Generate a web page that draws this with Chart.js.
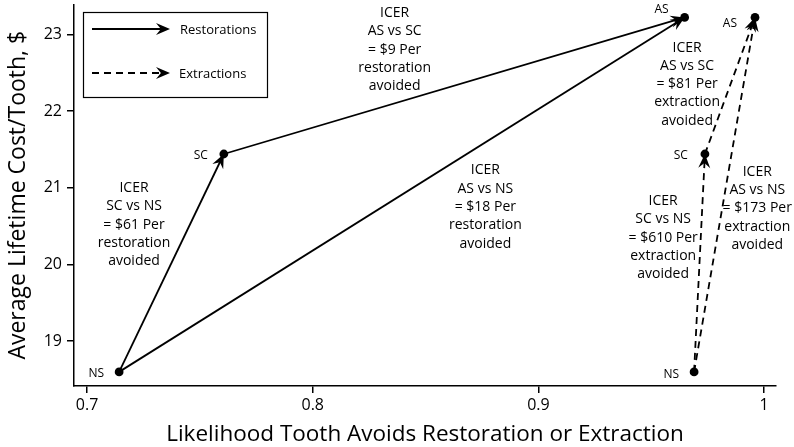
<!DOCTYPE html>
<html>
<head>
<meta charset="utf-8">
<script src="https://cdn.jsdelivr.net/npm/chart.js@4/dist/chart.umd.min.js"></script>
<style>
  html, body { margin: 0; padding: 0; background: #fff; }
  #wrap { width: 794px; height: 447px; }
</style>
</head>
<body>
<div id="wrap"><canvas id="icerChart"></canvas></div>
<script>
// values
const strategies = ['NS', 'SC', 'AS'];
const restorationEffect = [0.7142, 0.7606, 0.9648];
const restorationCost = [18.60, 21.44, 23.22];
const extractionEffect = [0.9690, 0.9738, 0.9960];
const extractionCost = [18.60, 21.44, 23.22];
const comparisons = [[0, 1], [1, 2], [0, 2]]; // from -> to
const restorationIcer = ['$61', '$9', '$18'];
const extractionIcer = ['$610', '$81', '$173'];
const xTicks = [0.7, 0.8, 0.9, 1];
const yTicks = [19, 20, 21, 22, 23];

const FONT = '"Open Sans", sans-serif';

// where each ICER note sits (data coords of block centre), same order as comparisons
const notePlace = {
    restoration: [{x: 0.7208, y: 20.52}, {x: 0.8363, y: 22.80}, {x: 0.8765, y: 20.75}],
    extraction: [{x: 0.9553, y: 20.35}, {x: 0.9659, y: 22.35}, {x: 0.9970, y: 20.73}]
};
// label offsets (px) from each point
const labelShift = {
    restoration: [[-15, 2], [-16, 2], [-16, -8]],
    extraction: [[-15, 3], [-17, 2], [-18, 6]]
};

function segmentSets(effect, cost, dash, group) {
    return comparisons.map(([a, b]) => ({
        data: [{x: effect[a], y: cost[a]}, {x: effect[b], y: cost[b]}],
        showLine: true,
        borderColor: '#000',
        borderWidth: 1.8,
        borderDash: dash,
        pointRadius: 0,
        segmentOf: group
    }));
}

function pointSet(effect, cost, group) {
    return {
        data: effect.map((v, i) => ({x: v, y: cost[i]})),
        showLine: false,
        pointRadius: 4.4,
        pointBackgroundColor: '#000',
        pointBorderWidth: 0,
        pointsOf: group
    };
}

function drawArrow(ctx, x, y, ang, len, half) {
    ctx.save();
    ctx.translate(x, y);
    ctx.rotate(ang);
    ctx.beginPath();
    ctx.moveTo(0, 0);
    ctx.lineTo(-len, -half);
    ctx.lineTo(-len * 0.65, 0);
    ctx.lineTo(-len, half);
    ctx.closePath();
    ctx.fillStyle = '#000';
    ctx.fill();
    ctx.restore();
}

const annotate = {
    id: 'annotate',
    afterDatasetsDraw(chart) {
        const ctx = chart.ctx;
        const xs = chart.scales.x, ys = chart.scales.y;
        // arrowheads at the end of every comparison
        chart.data.datasets.forEach((ds, i) => {
            if (!ds.segmentOf) return;
            const pts = chart.getDatasetMeta(i).data;
            const ang = Math.atan2(pts[1].y - pts[0].y, pts[1].x - pts[0].x);
            drawArrow(ctx, pts[1].x, pts[1].y, ang, 14, 6);
        });
        // strategy labels
        ctx.save();
        ctx.fillStyle = '#000';
        ctx.font = '12px ' + FONT;
        ctx.textAlign = 'right';
        ctx.textBaseline = 'middle';
        chart.data.datasets.forEach((ds, i) => {
            if (!ds.pointsOf) return;
            const pts = chart.getDatasetMeta(i).data;
            pts.forEach((p, k) => {
                const [dx, dy] = labelShift[ds.pointsOf][k];
                ctx.fillText(strategies[k], p.x + dx, p.y + dy);
            });
        });
        // ICER notes
        ctx.font = '14px ' + FONT;
        ctx.textAlign = 'center';
        const groups = {restoration: restorationIcer, extraction: extractionIcer};
        Object.keys(groups).forEach(g => {
            comparisons.forEach(([a, b], k) => {
                const lines = ['ICER', `${strategies[b]} vs ${strategies[a]}`,
                    `= ${groups[g][k]} Per`, g, 'avoided'];
                const cx = xs.getPixelForValue(notePlace[g][k].x);
                const cy = ys.getPixelForValue(notePlace[g][k].y);
                const lh = 18.3;
                lines.forEach((t, j) => ctx.fillText(t, cx, cy + (j - 2) * lh));
            });
        });
        // legend box
        ctx.strokeStyle = '#000';
        ctx.lineWidth = 1.2;
        ctx.strokeRect(83.5, 12.5, 184, 85);
        ctx.lineWidth = 1.8;
        ctx.beginPath();
        ctx.moveTo(92, 29); ctx.lineTo(165, 29);
        ctx.stroke();
        ctx.setLineDash([7, 5]);
        ctx.beginPath();
        ctx.moveTo(92, 73); ctx.lineTo(165, 73);
        ctx.stroke();
        ctx.setLineDash([]);
        drawArrow(ctx, 170, 29, 0, 14, 6);
        drawArrow(ctx, 170, 73, 0, 14, 6);
        ctx.textAlign = 'left';
        ctx.font = '13px ' + FONT;
        ctx.fillText('Restorations', 180, 30);
        ctx.fillText('Extractions', 179, 74);
        // x axis title, centred on the plot area
        ctx.font = '22.5px ' + FONT;
        ctx.textAlign = 'center';
        const area = chart.chartArea;
        ctx.fillText('Likelihood Tooth Avoids Restoration or Extraction', (area.left + area.right) / 2, 435);
        ctx.restore();
    }
};

const ctx = document.getElementById('icerChart').getContext('2d');
const icerChart = new Chart(ctx, {
    type: 'scatter',
    data: {
        datasets: [
            ...segmentSets(restorationEffect, restorationCost, [], 'restoration'),
            ...segmentSets(extractionEffect, extractionCost, [7, 5], 'extraction'),
            pointSet(restorationEffect, restorationCost, 'restoration'),
            pointSet(extractionEffect, extractionCost, 'extraction')
        ]
    },
    options: {
        responsive: true,
        maintainAspectRatio: false,
        animation: false,
        layout: {padding: {top: 0, right: 18, left: 0, bottom: 0}},
        plugins: {legend: {display: false}, tooltip: {enabled: false}},
        scales: {
            x: {
                type: 'linear',
                min: 0.6942,
                max: 1.0053,
                afterBuildTicks: s => { s.ticks = xTicks.map(v => ({value: v})); },
                afterFit: s => { s.height = 61; s.paddingLeft = 0; },
                ticks: {
                    color: '#000',
                    font: {family: FONT, size: 16},
                    padding: 3,
                    maxRotation: 0,
                    callback: v => String(v)
                },
                grid: {drawOnChartArea: false, tickLength: 7, color: '#000', lineWidth: 1.5},
                border: {color: '#000', width: 1.5}
            },
            y: {
                type: 'linear',
                min: 18.416,
                max: 23.39,
                afterBuildTicks: s => { s.ticks = yTicks.map(v => ({value: v})); },
                afterFit: s => { s.width = 74; s.paddingTop = 0; s.paddingBottom = 0; },
                ticks: {
                    color: '#000',
                    font: {family: FONT, size: 16},
                    padding: 5,
                    callback: v => String(v)
                },
                title: {
                    display: true,
                    text: 'Average Lifetime Cost/Tooth, $',
                    color: '#000',
                    font: {family: FONT, size: 23},
                    padding: {top: 5, bottom: 0}
                },
                grid: {drawOnChartArea: false, tickLength: 7, color: '#000', lineWidth: 1.5},
                border: {color: '#000', width: 1.5}
            }
        }
    },
    plugins: [annotate]
});
</script>
</body>
</html>
